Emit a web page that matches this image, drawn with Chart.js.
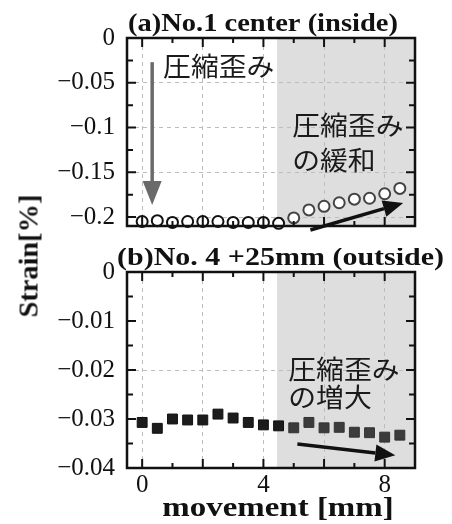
<!DOCTYPE html>
<html>
<head>
<meta charset="utf-8">
<script src="https://cdn.jsdelivr.net/npm/chart.js@4.4.1/dist/chart.umd.min.js"></script>
<style>
  body { margin: 0; background: #fff; }
  #wrap { position: relative; width: 452px; height: 524px; }
  #chartA { position: absolute; left: 0; top: 0; }
  #chartB { position: absolute; left: 0; top: 248px; }
  #ylab {
    position: absolute; left: 29px; top: 256px;
    transform: translate(-50%, -50%) rotate(-90deg) scale(1.05, 1);
    font: bold 27px "Liberation Serif", serif; white-space: nowrap; color: #111;
  }
</style>
</head>
<body>
<div id="wrap">
  <canvas id="chartA" width="452" height="248"></canvas>
  <canvas id="chartB" width="452" height="276"></canvas>
  <div id="ylab">Strain[%]</div>
</div>
<script>
// data
var movement = [0, 0.5, 1, 1.5, 2, 2.5, 3, 3.5, 4, 4.5, 5, 5.5, 6, 6.5, 7, 7.5, 8, 8.5];
var strainA = [-0.205, -0.204, -0.206, -0.205, -0.205, -0.205, -0.206, -0.206, -0.206, -0.207,
  -0.201, -0.192, -0.188, -0.184, -0.180, -0.179, -0.174, -0.168];
var strainB = [-0.0307, -0.0319, -0.0300, -0.0302, -0.0302, -0.0290, -0.0298, -0.0307, -0.0312, -0.0314,
  -0.0318, -0.0307, -0.0318, -0.0317, -0.0327, -0.0328, -0.0337, -0.0333];
var xTickLabels = [0, 4, 8];
var titleA = "(a)No.1 center (inside)";
var titleB = "(b)No. 4 +25mm (outside)";
var xTitle = "movement [mm]";
var shadeFrom = 4.45;

var serif = '"Liberation Serif", "Times New Roman", serif';
var jp = '"Noto Sans CJK JP", sans-serif';

function pts(ys) {
  return movement.map(function (x, i) { return { x: x, y: ys[i] }; });
}
function fmt(v, step) {
  var r = Math.round(v / step);
  if (Math.abs(v / step - r) > 1e-6) return "";
  if (r === 0) return "0";
  return "\u2212" + String(+Math.abs(r * step).toFixed(3));
}

function arrow(ctx, x1, y1, x2, y2, color, lw, hl, hw) {
  var a = Math.atan2(y2 - y1, x2 - x1);
  var bx = x2 - hl * Math.cos(a), by = y2 - hl * Math.sin(a);
  ctx.save();
  ctx.strokeStyle = color; ctx.fillStyle = color; ctx.lineWidth = lw;
  ctx.beginPath(); ctx.moveTo(x1, y1); ctx.lineTo(bx, by); ctx.stroke();
  ctx.beginPath();
  ctx.moveTo(x2, y2);
  ctx.lineTo(bx + hw * Math.sin(a), by - hw * Math.cos(a));
  ctx.lineTo(bx - hw * Math.sin(a), by + hw * Math.cos(a));
  ctx.closePath(); ctx.fill();
  ctx.restore();
}

// text stretched a little sideways, like the scanned figure
function wideText(ctx, text, x, y, sx) {
  ctx.save();
  ctx.translate(x, y);
  ctx.scale(sx, 1);
  ctx.fillText(text, 0, 0);
  ctx.restore();
}

var panel = {
  id: "panel",
  beforeDraw: function (chart, args, o) {
    var ca = chart.chartArea, xs = chart.scales.x, ctx = chart.ctx;
    ctx.save();
    ctx.fillStyle = "#dedede";
    var sx = xs.getPixelForValue(o.shadeFrom);
    ctx.fillRect(sx, ca.top, ca.right - sx, ca.bottom - ca.top);
    ctx.restore();
  },
  afterDatasetsDraw: function (chart, args, o) {
    var ca = chart.chartArea, xs = chart.scales.x, ys = chart.scales.y, ctx = chart.ctx;
    ctx.save();
    // inner ticks
    ctx.strokeStyle = "#111"; ctx.lineWidth = 2;
    ctx.beginPath();
    xs.ticks.forEach(function (t) {
      if (Math.abs(t.value - Math.round(t.value)) > 1e-6) return;
      var p = xs.getPixelForValue(t.value);
      var len = Math.round(t.value) % 2 === 0 ? 9 : 5;
      ctx.moveTo(p, ca.bottom); ctx.lineTo(p, ca.bottom - len);
      ctx.moveTo(p, ca.top); ctx.lineTo(p, ca.top + len);
    });
    ys.ticks.forEach(function (t) {
      var r = t.value / o.yMinor;
      if (Math.abs(r - Math.round(r)) > 1e-6) return;
      var p = ys.getPixelForValue(t.value);
      var len = Math.round(r) % 2 === 0 ? 9 : 6;
      ctx.moveTo(ca.left, p); ctx.lineTo(ca.left + len, p);
      ctx.moveTo(ca.right, p); ctx.lineTo(ca.right - len, p);
    });
    ctx.stroke();
    // frame
    ctx.lineWidth = 2.5;
    ctx.strokeRect(ca.left, ca.top, ca.right - ca.left, ca.bottom - ca.top);
    // arrows
    o.arrows.forEach(function (a) {
      arrow(ctx, xs.getPixelForValue(a.from[0]), ys.getPixelForValue(a.from[1]),
        xs.getPixelForValue(a.to[0]), ys.getPixelForValue(a.to[1]), a.color, 3.5, a.hl, a.hw);
    });
    // notes
    ctx.fillStyle = "#1a1a1a";
    ctx.font = "26px " + jp;
    ctx.textBaseline = "middle"; ctx.textAlign = "left";
    o.notes.forEach(function (n) {
      wideText(ctx, n.text, xs.getPixelForValue(n.at[0]), ys.getPixelForValue(n.at[1]), 1.07);
    });
    // panel title
    ctx.fillStyle = "#111";
    ctx.font = "bold 25px " + serif;
    ctx.textBaseline = "alphabetic";
    wideText(ctx, o.title, ca.left + o.titleDx, ca.top - 7, o.titleSx);
    // x axis title
    if (o.xTitle) {
      ctx.font = "bold 27px " + serif;
      ctx.textAlign = "center";
      wideText(ctx, o.xTitle, (ca.left + ca.right) / 2 + 7, chart.height - 8, 1.22);
    }
    ctx.restore();
  }
};

function makeChart(id, ys, ymin, ystep, ylabStep, gridStep, ptStyle, opts) {
  var xShowLabels = opts.xLabels;
  return new Chart(document.getElementById(id), {
    type: "scatter",
    data: {
      datasets: [{
        data: pts(ys),
        pointStyle: ptStyle.style,
        pointRadius: ptStyle.r,
        pointBorderWidth: ptStyle.bw,
        pointBackgroundColor: ptStyle.bg,
        pointBorderColor: ptStyle.border,
        clip: false
      }]
    },
    options: {
      responsive: false,
      devicePixelRatio: 1,
      animation: false,
      events: [],
      layout: { padding: opts.padding },
      plugins: {
        legend: { display: false },
        tooltip: { enabled: false },
        panel: opts.panel
      },
      scales: {
        x: {
          type: "linear", min: -0.5, max: 9,
          afterFit: function (s) { s.height = opts.xHeight; },
          border: { display: false, dash: [4, 4] },
          grid: {
            drawTicks: false,
            lineWidth: 1,
            color: function (c) {
              var v = c.tick.value;
              return (Math.abs(v - Math.round(v)) < 1e-6 && Math.round(v) % 2 === 0) ? "#bdbdbd" : "rgba(0,0,0,0)";
            }
          },
          ticks: {
            display: xShowLabels,
            stepSize: 1,
            includeBounds: false,
            autoSkip: false,
            maxRotation: 0,
            padding: 2,
            color: "#111",
            font: { family: serif, size: 25 },
            callback: function (v) { return xTickLabels.indexOf(v) >= 0 ? String(v) : ""; }
          }
        },
        y: {
          min: ymin, max: 0,
          afterFit: function (s) { s.width = 127; },
          border: { display: false, dash: [4, 4] },
          grid: {
            drawTicks: false,
            color: function (c) {
              var v = c.tick.value, r = v / gridStep;
              return (v < 0 && Math.abs(r - Math.round(r)) < 1e-6) ? "#bdbdbd" : "rgba(0,0,0,0)";
            }
          },
          ticks: {
            stepSize: ystep,
            includeBounds: false,
            autoSkip: false,
            padding: 12,
            color: "#111",
            font: { family: serif, size: 25, lineHeight: 0.7 },
            callback: function (v) { return fmt(v, ylabStep); }
          }
        }
      }
    },
    plugins: [panel]
  });
}

var inShade = function (c) { return c.raw && c.raw.x > 4.6; };

makeChart("chartA", strainA, -0.21, 0.025, 0.05, 0.05, {
  style: "circle", r: 5.5, bw: 2, bg: "#fff",
  border: function (c) { return inShade(c) ? "#444" : "#111"; }
}, {
  xLabels: false, xHeight: 22,
  padding: { left: 0, right: 37, top: 38, bottom: 0 },
  panel: {
    shadeFrom: shadeFrom, yMinor: 0.025, title: titleA, titleDx: 1, titleSx: 1.14,
    arrows: [
      { from: [0.33, -0.027], to: [0.33, -0.1866], color: "#6a6a6a", hl: 24, hw: 9.5 },
      { from: [5.55, -0.2145], to: [8.61, -0.1844], color: "#111", hl: 20, hw: 8.5 }
    ],
    notes: [
      { text: "圧縮歪み", at: [0.69, -0.0318] },
      { text: "圧縮歪み", at: [4.95, -0.0972] },
      { text: "の緩和", at: [4.95, -0.1363] }
    ]
  }
});

makeChart("chartB", strainB, -0.04, 0.005, 0.01, 0.02, {
  style: "rect", r: 7, bw: 1,
  bg: function (c) { return inShade(c) ? "#3c3c3c" : "#1c1c1c"; },
  border: function (c) { return inShade(c) ? "#333" : "#111"; }
}, {
  xLabels: true, xHeight: 56,
  padding: { left: 0, right: 37, top: 24, bottom: 0 },
  panel: {
    shadeFrom: shadeFrom, yMinor: 0.005, title: titleB, titleDx: -10, titleSx: 1.2,
    xTitle: xTitle,
    arrows: [
      { from: [5.12, -0.0351], to: [8.35, -0.0374], color: "#111", hl: 20, hw: 8.5 }
    ],
    notes: [
      { text: "圧縮歪み", at: [4.82, -0.0198] },
      { text: "の増大", at: [4.82, -0.0255] }
    ]
  }
});
</script>
</body>
</html>
